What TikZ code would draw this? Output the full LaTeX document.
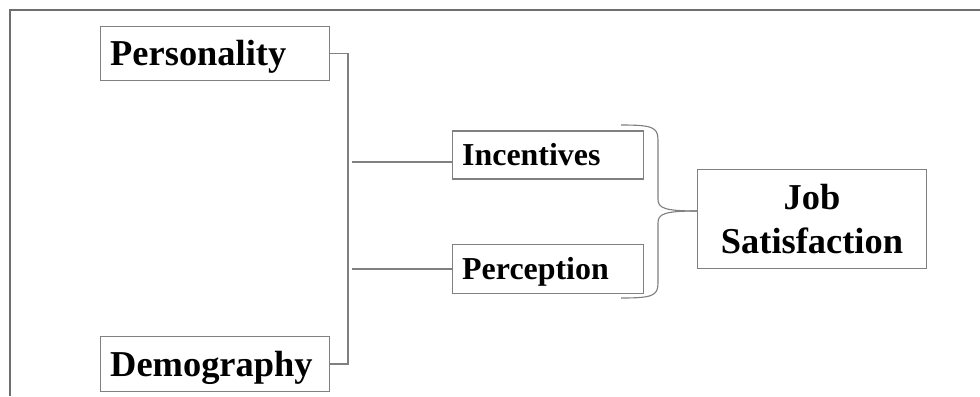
\documentclass[tikz,border=0pt]{standalone}
\usepackage{fontspec}
\setmainfont{Liberation Serif}
\definecolor{framegray}{RGB}{110,110,110}
\definecolor{boxgray}{RGB}{128,128,128}
\begin{document}
\begin{tikzpicture}[x=0.025cm,y=-0.025cm,
    box/.style={draw=boxgray, line width=0.8pt, inner xsep=7pt, inner ysep=0pt, align=left},
    bigbox/.style={box, text width=149pt, text height=28.3pt, text depth=10.7pt, font=\bfseries\fontsize{25.9}{31}\selectfont},
    smallbox/.style={box, text width=122pt, text height=24.8pt, text depth=9.4pt, font=\bfseries\fontsize{22.7}{28}\selectfont},
    jobbox/.style={draw=boxgray, line width=0.8pt, align=center, minimum width=163pt, minimum height=71pt, font=\bfseries\fontsize{25.9}{31.9}\selectfont},
    conn/.style={draw=boxgray, line width=0.8pt}]

\useasboundingbox (0,0) rectangle (980,396);
\draw[line width=1.1pt,color=framegray] (980,10) -- (10,10) -- (10,396); % frame

\node[bigbox] (pers) at (215,53.5) {Personality};
\node[bigbox] (demo) at (215,364) {Demography};
\node[smallbox] (inc) at (548,155) {Incentives};
\node[smallbox, text depth=10.4pt] (perc) at (548,269) {Perception};
\node[jobbox] (job) at (812,219) {Job\\Satisfaction};

\coordinate (bus) at (348,53);
\coordinate (tapI) at (352,162);
\coordinate (tapP) at (352,269);
\coordinate (tip) at ([yshift=5.7pt]job.west);

\draw[conn] (pers.east) -- (pers.east -| bus) |- (demo.east); % left bracket
\draw[conn] (tapI) -- (tapI -| inc.west);
\draw[conn] (tapP) -- (tapP -| perc.west);

% brace
\draw[conn] (621,125) .. controls (652,125) and (658,127) .. (658,140) -- (658,199) .. controls (658,208) and (664,211) .. (tip);
\draw[conn] (621,298) .. controls (652,298) and (658,296) .. (658,283) -- (658,223) .. controls (658,214) and (664,211) .. (tip);
\end{tikzpicture}
\end{document}
